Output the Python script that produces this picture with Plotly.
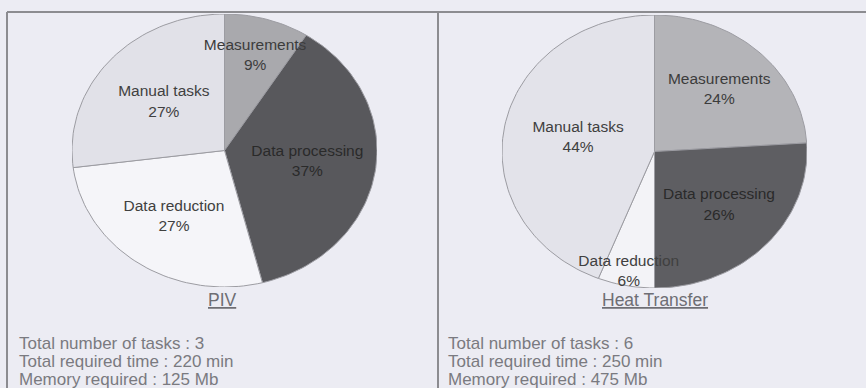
import math
import plotly.graph_objects as go

# ---- data -------------------------------------------------------------
categories = ["Measurements", "Data processing", "Data reduction", "Manual tasks"]
piv_share = [9, 37, 27, 27]          # % of total time, PIV campaign
heat_share = [24, 26, 6, 44]         # % of total time, heat-transfer campaign
panel_titles = ["PIV", "Heat Transfer"]
piv_stats = ["Total number of tasks : 3", "Total required time : 220 min", "Memory required : 125 Mb"]
heat_stats = ["Total number of tasks : 6", "Total required time : 250 min", "Memory required : 475 Mb"]

# ---- styling ----------------------------------------------------------
W, H = 866, 388
BG = "#ececf3"
FONT = "Liberation Sans, Arial, sans-serif"
slice_colors = {
    "PIV": ["#a9a9ad", "#58585c", "#f5f5f9", "#e1e1e8"],
    "Heat Transfer": ["#b4b4b8", "#5e5e62", "#f3f3f7", "#e3e3ea"],
}
label_colors = ["#3c3c3c", "#2a2a2a", "#404040", "#404040"]
# radial position of each slice label (fraction of the radius)
label_radius = {
    "PIV": [0.72, 0.55, 0.59, 0.53],
    "Heat Transfer": [0.62, 0.58, 0.90, 0.51],
}
# pixel boxes of the two pies (left, top, right, bottom)
pie_boxes = [(72, 14, 377, 287), (502, 15, 807, 288)]


def px_x(p):
    return p / W


def px_y(p):
    return 1 - p / H


fig = go.Figure()

for k, (title, shares) in enumerate(zip(panel_titles, [piv_share, heat_share])):
    ax = "" if k == 0 else str(k + 1)
    total = sum(shares)
    cum = 0.0
    for i, (cat, v) in enumerate(zip(categories, shares)):
        a0 = cum / total * 2 * math.pi
        cum += v
        a1 = cum / total * 2 * math.pi
        n = max(8, int(v * 2))
        xs, ys = [0.0], [0.0]
        for j in range(n + 1):
            a = a0 + (a1 - a0) * j / n
            xs.append(math.sin(a))
            ys.append(math.cos(a))
        xs.append(0.0)
        ys.append(0.0)
        fig.add_trace(go.Scatter(
            x=xs, y=ys, mode="lines", fill="toself",
            fillcolor=slice_colors[title][i],
            line=dict(color="#9c9ca2", width=1),
            hoverinfo="skip", showlegend=False,
            xaxis="x" + ax, yaxis="y" + ax,
        ))
    # slice labels
    cum = 0.0
    lx, ly, lt = [], [], []
    for i, (cat, v) in enumerate(zip(categories, shares)):
        mid = (cum + v / 2) / total * 2 * math.pi
        cum += v
        r = label_radius[title][i]
        lx.append(r * math.sin(mid))
        ly.append(r * math.cos(mid))
        lt.append(f"{cat}<br>{v}%")
    fig.add_trace(go.Scatter(
        x=lx, y=ly, mode="text", text=lt,
        textfont=dict(family=FONT, size=15.5, color=label_colors),
        hoverinfo="skip", showlegend=False,
        xaxis="x" + ax, yaxis="y" + ax,
    ))

layout_axes = {}
for k, (x0, y0, x1, y1) in enumerate(pie_boxes):
    ax = "" if k == 0 else str(k + 1)
    common = dict(visible=False, range=[-1.0, 1.0], fixedrange=True)
    layout_axes["xaxis" + ax] = dict(domain=[px_x(x0), px_x(x1)], anchor="y" + ax, **common)
    layout_axes["yaxis" + ax] = dict(domain=[px_y(y1), px_y(y0)], anchor="x" + ax, **common)

annotations = []
# panel captions (underlined)
for title, cx in zip(panel_titles, [223, 655]):
    annotations.append(dict(
        x=px_x(cx), y=px_y(300), xref="paper", yref="paper",
        text=f"<u>{title}</u>", showarrow=False,
        xanchor="center", yanchor="middle",
        font=dict(family=FONT, size=17.5, color="#6e6e74"),
    ))
# summary lines under each pie
for stats, x0 in zip([piv_stats, heat_stats], [17, 446]):
    for j, line in enumerate(stats):
        annotations.append(dict(
            x=px_x(x0), y=px_y(343 + 18 * j), xref="paper", yref="paper",
            text=line, showarrow=False,
            xanchor="left", yanchor="middle",
            font=dict(family=FONT, size=17, color="#7a7a80"),
        ))

# frame: top rule, left rule and the divider between panels
frame = [
    dict(type="line", xref="paper", yref="paper",
         x0=px_x(7), x1=1, y0=px_y(12), y1=px_y(12),
         line=dict(color="#8c8c90", width=2)),
    dict(type="line", xref="paper", yref="paper",
         x0=px_x(7), x1=px_x(7), y0=px_y(12), y1=0,
         line=dict(color="#8c8c90", width=2)),
    dict(type="line", xref="paper", yref="paper",
         x0=px_x(438), x1=px_x(438), y0=px_y(12), y1=0,
         line=dict(color="#8c8c90", width=2)),
]

fig.update_layout(
    width=W, height=H,
    margin=dict(l=0, r=0, t=0, b=0),
    paper_bgcolor=BG, plot_bgcolor=BG,
    showlegend=False,
    annotations=annotations,
    shapes=frame,
    **layout_axes,
)

fig.write_html("out.html", config={"displayModeBar": False})
